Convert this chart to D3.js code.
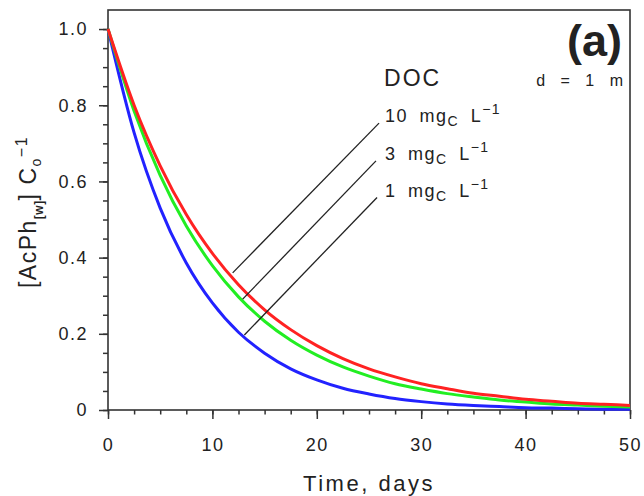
<!DOCTYPE html>
<html>
<head>
<meta charset="utf-8">
<script src="https://cdn.jsdelivr.net/npm/d3@7/dist/d3.min.js"></script>
<style>
  body { margin: 0; background: #fff; }
  text { font-family: "Liberation Sans", Arial, sans-serif; fill: #222; }
</style>
</head>
<body>
<div id="chart"></div>
<script>
// time axis (days) and normalised concentration
const days = [0, 2.5, 5, 7.5, 10, 12.5, 15, 17.5, 20, 22.5, 25, 27.5, 30, 32.5, 35, 37.5, 40, 42.5, 45, 47.5, 50];
const doc10 = [1, 0.800, 0.641, 0.513, 0.411, 0.329, 0.263, 0.211, 0.169, 0.135, 0.108, 0.087, 0.069, 0.056, 0.044, 0.036, 0.028, 0.023, 0.018, 0.015, 0.012];
const doc3 = [1, 0.785, 0.616, 0.483, 0.379, 0.297, 0.233, 0.183, 0.144, 0.113, 0.089, 0.069, 0.055, 0.043, 0.034, 0.026, 0.021, 0.016, 0.013, 0.010, 0.008];
const doc1 = [1, 0.728, 0.530, 0.386, 0.281, 0.204, 0.149, 0.108, 0.079, 0.057, 0.042, 0.030, 0.022, 0.016, 0.012, 0.009, 0.006, 0.005, 0.003, 0.002, 0.002];

const xTicks = [0, 10, 20, 30, 40, 50];
const yTicks = [0, 0.2, 0.4, 0.6, 0.8, 1.0];
const yTickLabels = ["0", "0.2", "0.4", "0.6", "0.8", "1.0"];

const docLabels = ["10", "3", "1"];
// leader lines [t0, v0, t1, v1] from curve to label
const leaders = [
    [11.94, 0.360, 25.96, 0.753],
    [12.90, 0.291, 25.67, 0.654],
    [13.06, 0.197, 25.77, 0.558]
];
const labelBase = [0.757, 0.656, 0.56];

const width = 644, height = 496;
const margin = { top: 10, right: 14, bottom: 86, left: 108 };
const w = width - margin.left - margin.right;
const h = height - margin.top - margin.bottom;

const svg = d3.select("#chart").append("svg")
    .attr("width", width)
    .attr("height", height);

const g = svg.append("g")
    .attr("transform", `translate(${margin.left},${margin.top})`);

const x = d3.scaleLinear().domain([0, 50]).range([0, w]);
const y = d3.scaleLinear().domain([0, 1.05]).range([h, 0]);

// minor ticks first
g.append("g")
    .attr("transform", `translate(0,${h})`)
    .call(d3.axisBottom(x).tickValues(d3.range(0, 50.1, 2.5)).tickSize(4.5).tickFormat(""))
    .call(a => a.select(".domain").remove());
g.append("g")
    .call(d3.axisLeft(y).tickValues(d3.range(0, 1.01, 0.05)).tickSize(5).tickFormat(""))
    .call(a => a.select(".domain").remove());

// major ticks + labels
const xAxis = g.append("g")
    .attr("transform", `translate(0,${h})`)
    .call(d3.axisBottom(x).tickValues(xTicks).tickSize(9).tickPadding(19).tickFormat(d3.format("d")));
xAxis.select(".domain").remove();
xAxis.selectAll("text")
    .style("font-size", "18px")
    .style("letter-spacing", "1.5px")
    .style("font-family", "Liberation Sans, Arial, sans-serif")
    .attr("fill", "#222");

const yAxis = g.append("g")
    .call(d3.axisLeft(y).tickValues(yTicks).tickSize(9).tickPadding(11).tickFormat((d, i) => yTickLabels[i]));
yAxis.select(".domain").remove();
yAxis.selectAll("text")
    .style("font-size", "18px")
    .style("letter-spacing", "1.5px")
    .style("font-family", "Liberation Sans, Arial, sans-serif")
    .attr("fill", "#222");

g.selectAll(".tick line").attr("stroke", "#333").attr("stroke-width", 1.5);

// frame
g.append("rect")
    .attr("x", 0).attr("y", 0)
    .attr("width", w).attr("height", h)
    .attr("fill", "none")
    .attr("stroke", "#333")
    .attr("stroke-width", 1.6);

// curves, red on top
const line = d3.line()
    .x((d, i) => x(days[i]))
    .y(d => y(d))
    .curve(d3.curveMonotoneX);

const series = [
    { values: doc1, color: "#2222ff" },
    { values: doc3, color: "#22ee22" },
    { values: doc10, color: "#ff2222" }
];
g.selectAll(".curve")
    .data(series)
    .enter().append("path")
    .attr("class", "curve")
    .attr("d", d => line(d.values))
    .attr("fill", "none")
    .attr("stroke", d => d.color)
    .attr("stroke-width", 3);

// leader lines
g.selectAll(".leader")
    .data(leaders)
    .enter().append("line")
    .attr("class", "leader")
    .attr("x1", d => x(d[0])).attr("y1", d => y(d[1]))
    .attr("x2", d => x(d[2])).attr("y2", d => y(d[3]))
    .attr("stroke", "#222")
    .attr("stroke-width", 1.3);

// DOC legend labels
g.append("text")
    .attr("x", x(26.44)).attr("y", y(0.85))
    .style("font-size", "23px")
    .style("letter-spacing", "2px")
    .text("DOC");

const lab = g.selectAll(".doc-label")
    .data(docLabels)
    .enter().append("text")
    .attr("class", "doc-label")
    .attr("x", x(26.53))
    .attr("y", (d, i) => y(labelBase[i]))
    .style("font-size", "18px")
    .style("letter-spacing", "1.5px")
    .style("word-spacing", "5px");
lab.append("tspan").text(d => d + " mg");
lab.append("tspan").attr("dy", 4).style("font-size", "14px").text("C");
lab.append("tspan").attr("dy", -4).text(" L");
lab.append("tspan").attr("dy", -8).style("font-size", "14px").text("\u22121");

// panel tag
g.append("text")
    .attr("x", w - 8).attr("y", 46)
    .attr("text-anchor", "end")
    .style("font-size", "45px")
    .style("font-weight", "bold")
    .text("(a)");

g.append("text")
    .attr("x", w - 5).attr("y", 76)
    .attr("text-anchor", "end")
    .style("font-size", "16px")
    .style("letter-spacing", "2px")
    .style("word-spacing", "7px")
    .text("d = 1 m");

// axis titles
svg.append("text")
    .attr("x", margin.left + w / 2).attr("y", 491)
    .attr("text-anchor", "middle")
    .style("font-size", "22px")
    .style("letter-spacing", "2.5px")
    .text("Time, days");

const yt = svg.append("text")
    .attr("transform", "translate(36,212) rotate(-90)")
    .attr("text-anchor", "middle")
    .style("font-size", "23px")
    .style("letter-spacing", "1.5px");
yt.append("tspan").text("[AcPh");
yt.append("tspan").attr("dy", 7).style("font-size", "12px").style("font-weight", "bold").style("letter-spacing", "0.5px").text("[w]");
yt.append("tspan").attr("dy", -7).text("] C");
yt.append("tspan").attr("dy", 5).style("font-size", "14px").text("o");
yt.append("tspan").attr("dy", -14).style("font-size", "16px").text("\u22121");
</script>
</body>
</html>
